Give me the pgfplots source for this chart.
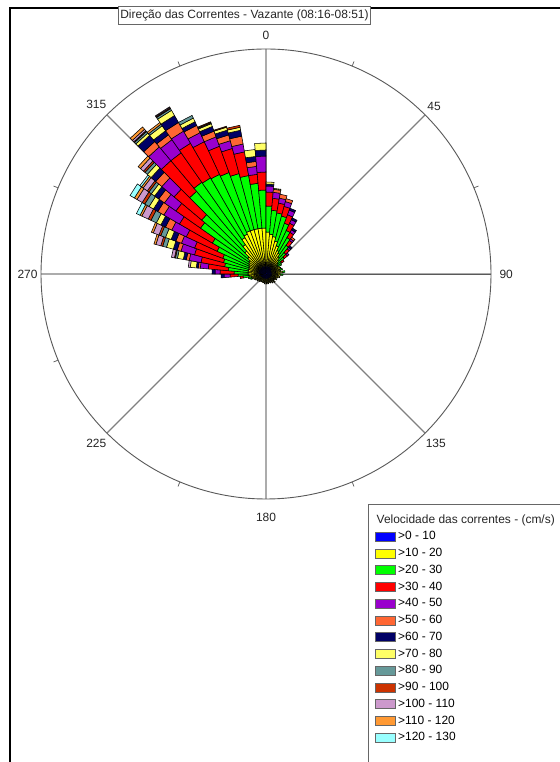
\documentclass[border=0pt]{standalone}
\usepackage{pgfplots}
\pgfplotsset{compat=1.18}
\usepackage{pgfplotstable}
\usepgfplotslibrary{polar}
\usepackage{fontspec}
\setmainfont{Liberation Sans}

\definecolor{col1}{RGB}{0,0,255}
\definecolor{col2}{RGB}{255,255,0}
\definecolor{col3}{RGB}{0,255,0}
\definecolor{col4}{RGB}{255,0,0}
\definecolor{col5}{RGB}{153,0,204}
\definecolor{col6}{RGB}{255,102,51}
\definecolor{col7}{RGB}{0,0,102}
\definecolor{col8}{RGB}{255,255,102}
\definecolor{col9}{RGB}{102,153,153}
\definecolor{col10}{RGB}{204,51,0}
\definecolor{col11}{RGB}{204,153,204}
\definecolor{col12}{RGB}{255,153,51}
\definecolor{col13}{RGB}{153,255,255}

% direction (deg, compass) and radial length of each speed class (stacked)
\pgfplotstableread{
a s1 s2 s3 s4 s5 s6 s7 s8 s9 s10 s11 s12 s13
267.5 8 10 10 8 6 0 3 0 0 0 0 0 0
272.5 8 10 14 14 5 0 3 0 0 0 0 0 0
277.5 8 10 20 20 8 2 2 6 0 0 2 0 0
282.5 8 10 24 24 12 3 3 6 2 1 3 0 0
287.5 8 10 26 30 14 4 4 7 4 2 5 2 0
292.5 8 10 28 30 14 6 5 6 5 2 6 2 0
297.5 8 11 35 34 16 7 5 5 6 3 7 2 4
302.5 8 12 42 38 18 7 5 5 5 3 6 3 5
307.5 8 13 59 30 14 7 5 4 3 2 5 2 2
312.5 8 16 60 36 16 8 6 5 3 2 4 3 0
317.5 8 22 78 40 18 7 8 3 2 1 2 3 0
322.5 8 28 76 36 16 6 5 6 2 0 0 2 0
327.5 8 34 69 40 14 10 8 6 2 1 1 0 0
332.5 8 36 66 36 10 8 4 4 3 0 0 0 0
337.5 8 38 62 28 10 6 5 3 1 1 0 0 0
342.5 8 38 58 26 8 6 5 3 0 1 0 0 0
347.5 8 38 54 24 8 8 6 3 0 2 0 0 0
352.5 8 38 45 9 8 5 5 7 0 0 0 0 0
357.5 8 38 38 18 16 0 6 7 0 0 0 0 0
2.5 8 34 26 14 6 0 2 2 0 0 0 0 0
7.5 8 32 24 12 6 3 0 1 0 0 0 0 0
12.5 8 30 24 10 5 4 0 0 0 0 0 0 0
17.5 8 26 26 10 5 3 0 0 0 0 0 0 0
22.5 8 22 24 9 5 0 2 0 0 0 0 0 0
27.5 8 18 22 8 4 0 2 0 0 0 0 0 0
32.5 8 16 18 6 3 0 2 0 0 0 0 0 0
37.5 8 13 14 6 2 2 0 0 0 0 0 0 0
42.5 8 10 10 5 2 0 2 0 0 0 0 0 0
47.5 8 8 8 4 2 0 0 0 0 0 0 0 0
52.5 8 6 5 3 0 0 0 0 0 0 0 0 0
57.5 8 6 4 0 0 0 0 0 0 0 0 0 0
62.5 6 9 0 0 0 0 0 0 0 0 0 0 0
67.5 6 10 0 0 0 0 0 0 0 0 0 0 0
72.5 6 8 3 0 0 0 0 0 0 0 0 0 0
77.5 6 9 0 0 0 0 0 0 0 0 0 0 0
82.5 6 11 2 0 0 0 0 0 0 0 0 0 0
87.5 6 8 0 0 0 0 0 0 0 0 0 0 0
92.5 6 9 2 0 0 0 0 0 0 0 0 0 0
97.5 6 7 0 0 0 0 0 0 0 0 0 0 0
102.5 6 8 0 0 0 0 0 0 0 0 0 0 0
107.5 5 7 0 0 0 0 0 0 0 0 0 0 0
112.5 6 5 0 0 0 0 0 0 0 0 0 0 0
117.5 5 7 0 0 0 0 0 0 0 0 0 0 0
122.5 6 4 0 0 0 0 0 0 0 0 0 0 0
127.5 5 5 0 0 0 0 0 0 0 0 0 0 0
132.5 6 6 0 0 0 0 0 0 0 0 0 0 0
137.5 5 4 0 0 0 0 0 0 0 0 0 0 0
142.5 6 5 0 0 0 0 0 0 0 0 0 0 0
147.5 5 3 0 0 0 0 0 0 0 0 0 0 0
152.5 5 5 0 0 0 0 0 0 0 0 0 0 0
157.5 5 4 0 0 0 0 0 0 0 0 0 0 0
162.5 6 3 0 0 0 0 0 0 0 0 0 0 0
167.5 5 5 0 0 0 0 0 0 0 0 0 0 0
172.5 5 3 0 0 0 0 0 0 0 0 0 0 0
177.5 6 4 0 0 0 0 0 0 0 0 0 0 0
182.5 5 3 0 0 0 0 0 0 0 0 0 0 0
187.5 5 5 0 0 0 0 0 0 0 0 0 0 0
192.5 5 3 0 0 0 0 0 0 0 0 0 0 0
197.5 6 3 0 0 0 0 0 0 0 0 0 0 0
202.5 5 4 0 0 0 0 0 0 0 0 0 0 0
207.5 5 2 0 0 0 0 0 0 0 0 0 0 0
212.5 5 4 0 0 0 0 0 0 0 0 0 0 0
217.5 6 3 0 0 0 0 0 0 0 0 0 0 0
222.5 5 5 0 0 0 0 0 0 0 0 0 0 0
227.5 5 4 0 0 0 0 0 0 0 0 0 0 0
232.5 6 5 0 0 0 0 0 0 0 0 0 0 0
237.5 5 5 0 0 0 0 0 0 0 0 0 0 0
242.5 6 6 0 0 0 0 0 0 0 0 0 0 0
247.5 6 7 0 0 0 0 0 0 0 0 0 0 0
252.5 6 8 2 0 0 0 0 0 0 0 0 0 0
257.5 6 9 3 0 0 0 0 0 0 0 0 0 0
262.5 7 10 6 3 0 0 0 0 0 0 0 0 0
}\rose

\begin{document}
\begin{tikzpicture}[x=1bp,y=1bp]
\useasboundingbox (0,0) rectangle (560,762);
\fill[white] (0,0) rectangle (560,762);
% screenshot frame
\draw[black, line width=2bp] (10,0) -- (10,754) -- (560,754);

\begin{polaraxis}[
  at={(266bp,488bp)}, anchor=center,
  scale only axis, width=450bp, height=450bp,
  xmin=0, xmax=360, ymin=0, ymax=225,
  xtick={0,45,...,315},
  xticklabels={{\hspace{5bp}90},{45},{\rule[-6bp]{0pt}{0pt}0},{315},{270\hspace{5bp}},{225},{\rule{0pt}{19bp}180},{135}},
  minor x tick num=1,
  ytick=\empty,
  xmajorgrids,
  major grid style={gray, line width=1.2bp},
  axis line style={black!65, line width=0.9bp},
  tick align=inside, major tick length=0pt, minor tick length=5bp,
  minor tick style={black!65, line width=0.7bp},
  tick label style={font=\fontsize{12}{14}\selectfont, text=black!85},
  /pgf/number format/assume math mode=true,
  legend style={
    at={(axis description cs:0.742,-0.069)}, anchor=north west,
    draw=none, fill=none, inner sep=0pt,
    row sep=3.75bp, column sep=2bp,
    font=\fontsize{12}{14}\selectfont,
    nodes={inner sep=0.5bp, text height=9bp, text depth=3bp},
  },
  legend cell align=left,
  legend image code/.code={\draw[#1,draw=black!60,line width=0.6bp] (0bp,-4.5bp) rectangle (20bp,4.5bp);},
]
\pgfplotstablegetrowsof{\rose}
\pgfmathtruncatemacro\nrows{\pgfplotsretval-1}
\foreach \i in {0,...,\nrows}{%
  \pgfplotstablegetelem{\i}{a}\of\rose
  \pgfmathsetmacro\aL{90-\pgfplotsretval+2.5}%
  \pgfmathsetmacro\aR{90-\pgfplotsretval-2.5}%
  \gdef\rin{0}%
  \foreach \k in {1,...,13}{%
    \pgfplotstablegetelem{\i}{s\k}\of\rose
    \let\seg\pgfplotsretval
    \pgfmathsetmacro\rout{\rin+\seg}%
    \pgfmathtruncatemacro\pos{\seg>0?1:0}%
    \ifnum\pos=1
      \edef\cmd{\noexpand\addplot[forget plot, draw=black, line width=0.55bp, fill=col\k] coordinates {(\aL,\rin) (\aR,\rin) (\aR,\rout) (\aL,\rout)} -- cycle;}%
      \cmd
    \fi
    \xdef\rin{\rout}%
  }%
}
\addlegendimage{fill=col1}\addlegendentry{>0 - 10}
\addlegendimage{fill=col2}\addlegendentry{>10 - 20}
\addlegendimage{fill=col3}\addlegendentry{>20 - 30}
\addlegendimage{fill=col4}\addlegendentry{>30 - 40}
\addlegendimage{fill=col5}\addlegendentry{>40 - 50}
\addlegendimage{fill=col6}\addlegendentry{>50 - 60}
\addlegendimage{fill=col7}\addlegendentry{>60 - 70}
\addlegendimage{fill=col8}\addlegendentry{>70 - 80}
\addlegendimage{fill=col9}\addlegendentry{>80 - 90}
\addlegendimage{fill=col10}\addlegendentry{>90 - 100}
\addlegendimage{fill=col11}\addlegendentry{>100 - 110}
\addlegendimage{fill=col12}\addlegendentry{>110 - 120}
\addlegendimage{fill=col13}\addlegendentry{>120 - 130}
\end{polaraxis}

% title box
\node[draw=black!60, fill=white, line width=0.8bp, inner xsep=2bp, minimum height=18bp,
      font=\fontsize{12}{14}\selectfont, text=black!85] at (244.5,747) {Direção das Correntes - Vazante (08:16-08:51)};
% legend frame and title
\draw[black!60, line width=0.9bp] (562,258) -- (368,258) -- (368,-2);
\node[anchor=west, inner sep=0pt, font=\fontsize{12}{14}\selectfont, text=black!85] at (376.5,242) {Velocidade das correntes - (cm/s)};
\end{tikzpicture}
\end{document}
